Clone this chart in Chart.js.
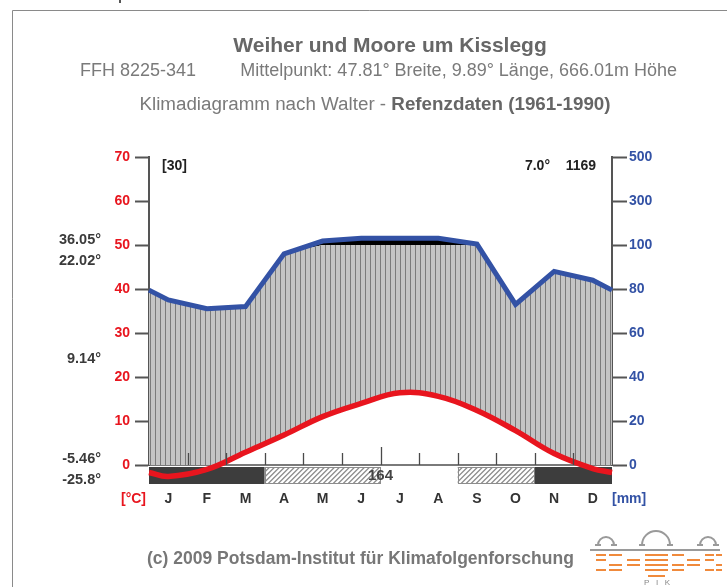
<!DOCTYPE html>
<html><head><meta charset="utf-8">
<script src="https://cdn.jsdelivr.net/npm/chart.js@4/dist/chart.umd.min.js"></script>
<style>html,body{margin:0;padding:0;background:#fff;overflow:hidden}#wrap{position:relative;width:727px;height:587px}</style>
</head><body><div id="wrap"><canvas id="c" width="727" height="587"></canvas></div>
<script>
// ---- data ----
const months = ['J','F','M','A','M','J','J','A','S','O','N','D'];
const temperature = [-2.6, -1.0, 2.9, 6.8, 11.0, 14.0, 16.4, 15.6, 12.4, 7.8, 2.6, -0.8];
const precipitation = [75, 71, 72, 96, 118, 131, 131, 131, 104, 73, 88, 84];
const frostType = [2, 2, 2, 1, 1, 1, 0, 0, 1, 1, 2, 2]; // 2 = frost month, 1 = possible frost
const tempTicks = [0, 10, 20, 30, 40, 50, 60, 70];
const precipTicks = [0, 20, 40, 60, 80, 100, 300, 500];
const sideLabels = ['36.05°', '22.02°', '9.14°', '-5.46°', '-25.8°'];
const yearsLabel = '[30]';
const meanTempLabel = '7.0°';
const totalPrecipLabel = '1169';
const frostFreeDays = '164';
const titleText = 'Weiher und Moore um Kisslegg';
const siteCode = 'FFH 8225-341';
const siteInfo = 'Mittelpunkt: 47.81° Breite, 9.89° Länge, 666.01m Höhe';
const subtitleA = 'Klimadiagramm nach Walter - ';
const subtitleB = 'Refenzdaten (1961-1990)';
const footerText = '(c) 2009 Potsdam-Institut für Klimafolgenforschung';

// ---- helpers ----
const FONT = "'Liberation Sans', Arial, Helvetica, sans-serif";
const RED = '#e8151e', BLUE = '#3352a5';
const toUnits = p => p <= 100 ? p / 2 : 50 + (p - 100) / 20;
const edgeVal = a => (a[0] + a[a.length - 1]) / 2;
function series(vals) {
  const pts = [{x: 0, y: edgeVal(vals)}];
  vals.forEach((v, i) => pts.push({x: i + 0.5, y: v}));
  pts.push({x: 12, y: edgeVal(vals)});
  return pts;
}
const precipFull = series(precipitation).map(p => ({x: p.x, y: toUnits(p.y)}));
const precipCapped = series(precipitation).map(p => ({x: p.x, y: toUnits(Math.min(p.y, 100))}));

const canvas = document.getElementById('c');
const ctx = canvas.getContext('2d');
const pc = document.createElement('canvas'); pc.width = 5; pc.height = 5;
const pg = pc.getContext('2d');
pg.fillStyle = '#c4c4c4'; pg.fillRect(0, 0, 5, 5);
pg.fillStyle = '#7a7a7a'; pg.fillRect(0, 0, 1, 5);
const stripes = ctx.createPattern(pc, 'repeat');

const decor = {
  id: 'decor',
  beforeDraw(chart) {
    const c = chart.ctx;
    c.save();
    c.fillStyle = '#fff'; c.fillRect(0, 0, chart.width, chart.height);
    // frame
    c.strokeStyle = '#8a8a8a'; c.lineWidth = 1;
    c.beginPath(); c.moveTo(12.5, 587); c.lineTo(12.5, 10.5); c.lineTo(727, 10.5); c.stroke();
    c.fillStyle = '#555'; c.fillRect(119, 0, 2, 3);
    // titles
    c.textBaseline = 'middle';
    c.fillStyle = '#676767'; c.textAlign = 'center';
    c.font = 'bold 21px ' + FONT;
    c.fillText(titleText, 390, 46);
    c.fillStyle = '#7a7a7a';
    c.font = '18px ' + FONT;
    c.textAlign = 'left';
    c.fillText(siteCode, 80, 71);
    c.textAlign = 'right';
    c.fillText(siteInfo, 677, 71);
    const fs3 = '18.8px ';
    c.font = fs3 + FONT;
    const wA = c.measureText(subtitleA).width;
    c.font = 'bold ' + fs3 + FONT;
    const wB = c.measureText(subtitleB).width;
    const sx = 375 - (wA + wB) / 2;
    c.textAlign = 'left';
    c.font = fs3 + FONT; c.fillStyle = '#7a7a7a';
    c.fillText(subtitleA, sx, 105);
    c.font = 'bold ' + fs3 + FONT; c.fillStyle = '#666';
    c.fillText(subtitleB, sx + wA, 105);
    // side statistics
    c.font = 'bold 14.5px ' + FONT; c.fillStyle = '#3a3a3a'; c.textAlign = 'right';
    const sy = [240, 261, 359, 459, 480];
    sideLabels.forEach((t, i) => c.fillText(t, 101, sy[i]));
    // footer
    c.font = 'bold 17.5px ' + FONT; c.fillStyle = '#777'; c.textAlign = 'left';
    c.fillText(footerText, 147, 559);
    // PIK logo
    c.strokeStyle = '#9a9a9a'; c.lineWidth = 2;
    c.beginPath(); c.moveTo(590, 550); c.lineTo(720, 550); c.stroke();
    [[606, 545, 8], [656, 545, 14], [708, 545, 8]].forEach(([x, y, r]) => {
      c.beginPath(); c.arc(x, y, r, Math.PI, 0); c.stroke();
      c.beginPath(); c.moveTo(x - r - 3, y); c.lineTo(x - r + 3, y); c.moveTo(x + r - 3, y); c.lineTo(x + r + 3, y); c.stroke();
    });
    c.fillStyle = '#f08a3c';
    const rows = [555, 560, 565, 570];
    const segs = [[596, 606], [609, 622], [627, 640], [645, 668], [672, 684], [687, 700], [705, 714], [716, 722]];
    rows.forEach((y, ri) => segs.forEach(([a, b], si) => {
      if ((ri + si) % 3 === 2 && si !== 3) return;
      c.fillRect(a, y - 1, b - a, 2);
    }));
    c.fillRect(648, 575, 17, 2);
    c.font = '8px ' + FONT; c.fillStyle = '#888'; c.textAlign = 'center';
    c.fillText('P   I   K', 657, 583);
    c.restore();
  },
  beforeDatasetsDraw(chart) {
    const c = chart.ctx, xs = chart.scales.x, b = chart.chartArea.bottom;
    const top = b + 2, h = 17;
    c.save();
    let i = 0;
    while (i < 12) {
      let j = i;
      while (j + 1 < 12 && frostType[j + 1] === frostType[i]) j++;
      const x0 = xs.getPixelForValue(i), x1 = xs.getPixelForValue(j + 1);
      if (frostType[i] === 2) {
        c.fillStyle = '#3d3d3d'; c.fillRect(x0, top, x1 - x0, h);
      } else if (frostType[i] === 1) {
        c.fillStyle = '#fff'; c.fillRect(x0, top, x1 - x0, h);
        c.save();
        c.beginPath(); c.rect(x0, top, x1 - x0, h); c.clip();
        c.strokeStyle = '#8c8c8c'; c.lineWidth = 1.3;
        c.beginPath();
        for (let x = x0 - h; x < x1 + h; x += 5) { c.moveTo(x, top + h); c.lineTo(x + h, top); }
        c.stroke();
        c.restore();
        c.strokeStyle = '#8c8c8c'; c.lineWidth = 1;
        c.strokeRect(Math.round(x0) + 0.5, top + 0.5, Math.round(x1 - x0) - 1, h - 1);
      }
      i = j + 1;
    }
    c.restore();
  },
  afterDatasetsDraw(chart) {
    const c = chart.ctx, xs = chart.scales.x, a = chart.chartArea;
    c.save();
    c.strokeStyle = '#4a4a4a'; c.lineWidth = 1.3;
    c.beginPath();
    for (let m = 1; m < 12; m++) {
      const x = Math.round(xs.getPixelForValue(m)) + 0.5;
      c.moveTo(x, a.bottom); c.lineTo(x, a.bottom - (m === 6 ? 18 : 12));
    }
    c.stroke();
    c.textBaseline = 'middle';
    c.font = 'bold 15px ' + FONT; c.fillStyle = '#444'; c.textAlign = 'center';
    c.fillText(frostFreeDays, xs.getPixelForValue(6), a.bottom + 11);
    c.font = 'bold 14px ' + FONT; c.fillStyle = '#222';
    c.textAlign = 'left'; c.fillText(yearsLabel, 162, 166);
    c.textAlign = 'right'; c.fillText(meanTempLabel, 550, 166); c.fillText(totalPrecipLabel, 596, 166);
    c.font = 'bold 14px ' + FONT;
    c.fillStyle = RED; c.textAlign = 'right'; c.fillText('[°C]', 146, 499);
    c.fillStyle = BLUE; c.textAlign = 'left'; c.fillText('[mm]', 612, 499);
    c.restore();
  }
};

new Chart(canvas, {
  type: 'line',
  data: {
    datasets: [
      {label: 'Temperatur', data: series(temperature), yAxisID: 'y', borderColor: RED, borderWidth: 5.5,
       pointRadius: 0, tension: 0.4, fill: false, clip: false, order: 0},
      {label: 'Niederschlag bis 100', data: precipCapped, yAxisID: 'y', borderWidth: 0, borderColor: 'rgba(0,0,0,0)',
       pointRadius: 0, tension: 0, fill: {target: 0, above: stripes, below: 'rgba(0,0,0,0)'}, order: 2},
      {label: 'Niederschlag', data: precipFull, yAxisID: 'y', borderColor: BLUE, borderWidth: 5,
       pointRadius: 0, tension: 0, fill: {target: 1, above: '#000', below: 'rgba(0,0,0,0)'}, clip: false, order: 1}
    ]
  },
  options: {
    responsive: false, animation: false, devicePixelRatio: 1,
    layout: {padding: {top: 157, left: 0, right: 0, bottom: 0}},
    plugins: {legend: {display: false}, tooltip: {enabled: false}},
    scales: {
      x: {type: 'linear', min: 0, max: 12,
        afterBuildTicks: s => { s.ticks = months.map((m, i) => ({value: i + 0.5})); },
        ticks: {callback: (v, i) => months[i], autoSkip: false, maxRotation: 0, padding: 26,
          color: '#333', font: {family: FONT, size: 14, weight: 'bold'}},
        grid: {display: false, drawTicks: false},
        border: {display: true, color: '#7a7a7a', width: 2},
        afterFit: s => { s.height = 122; }},
      y: {position: 'left', min: 0, max: 70,
        afterBuildTicks: s => { s.ticks = tempTicks.map(v => ({value: v})); },
        ticks: {color: RED, padding: 5, font: {family: FONT, size: 14, weight: 'bold'}},
        grid: {drawOnChartArea: false, tickLength: 14, tickColor: '#555', tickWidth: 2},
        border: {color: '#555', width: 2},
        afterFit: s => { s.width = 149; }},
      y2: {position: 'right', min: 0, max: 70,
        afterBuildTicks: s => { s.ticks = precipTicks.map(p => ({value: toUnits(p)})); },
        ticks: {callback: (v, i) => String(precipTicks[i]), color: BLUE, padding: 2,
          font: {family: FONT, size: 14, weight: 'bold'}},
        grid: {drawOnChartArea: false, tickLength: 15, tickColor: '#555', tickWidth: 2},
        border: {color: '#555', width: 2},
        afterFit: s => { s.width = 115; }}
    }
  },
  plugins: [decor]
});
</script></body></html>
